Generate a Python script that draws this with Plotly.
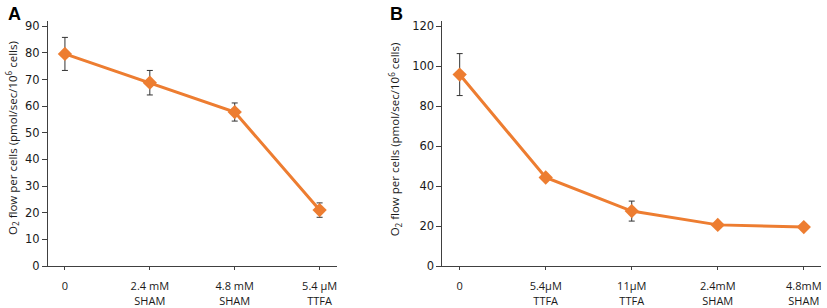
import plotly.graph_objects as go

# Panel A data
cats_a = ["0", "2.4 mM<br>SHAM", "4.8 mM<br>SHAM", "5.4 µM<br>TTFA"]
vals_a = [79.6, 68.8, 57.8, 21.0]
err_a = [6.2, 4.6, 3.4, 2.7]
yticks_a = [0, 10, 20, 30, 40, 50, 60, 70, 80, 90]

# Panel B data
cats_b = ["0", "5.4µM<br>TTFA", "11µM<br>TTFA", "2.4mM<br>SHAM", "4.8mM<br>SHAM"]
vals_b = [95.8, 44.3, 27.5, 20.6, 19.5]
err_b = [10.5, 1.0, 5.0, 1.0, 0.6]
yticks_b = [0, 20, 40, 60, 80, 100, 120]

ytitle = "O<sub>2</sub> flow per cells (pmol/sec/10<sup>6</sup> cells)"
ORANGE = "#ED7D31"
W, H = 827, 308

fig = go.Figure()

def add_series(x, y, e, xa, ya):
    fig.add_trace(go.Scatter(
        x=x, y=y, xaxis=xa, yaxis=ya, mode="lines+markers",
        line=dict(color=ORANGE, width=3),
        marker=dict(symbol="diamond", size=11, color=ORANGE),
        error_y=dict(type="data", array=e, visible=True, color="#333333", thickness=1, width=3),
        showlegend=False, cliponaxis=False,
    ))

add_series(cats_a, vals_a, err_a, "x", "y")
add_series(cats_b, vals_b, err_b, "x2", "y2")

tickfont_y = dict(family="DejaVu Sans", size=11.5, color="#1a1a1a")
tickfont_x = dict(family="Open Sans", size=11, color="#1a1a1a")
axcommon = dict(showline=True, linecolor="#404040", linewidth=1, ticks="outside",
                tickcolor="#404040", showgrid=False, zeroline=False)

fig.update_layout(
    width=W, height=H, margin=dict(l=0, r=0, t=0, b=0),
    plot_bgcolor="white", paper_bgcolor="white",
    xaxis=dict(domain=[48 / W, 337 / W], type="category", categoryorder="array",
               categoryarray=cats_a, range=[-0.2, 3.2], tickfont=tickfont_x, ticklen=3,
               ticklabelstandoff=7, **axcommon),
    yaxis=dict(domain=[(H - 272) / H, (H - 20) / H], range=[0, 91.8], tickvals=yticks_a,
               tickfont=tickfont_y, anchor="x", ticklen=5, **axcommon),
    xaxis2=dict(domain=[443 / W, 822 / W], type="category", categoryorder="array",
                categoryarray=cats_b, range=[-0.2, 4.2], tickfont=tickfont_x, ticklen=3,
                ticklabelstandoff=7, anchor="y2", **axcommon),
    yaxis2=dict(domain=[(H - 272) / H, (H - 20) / H], range=[0, 122.4], tickvals=yticks_b,
                tickfont=tickfont_y, anchor="x2", ticklen=5, **axcommon),
    annotations=[
        dict(text="<b>A</b>", x=15 / W, y=1 - 12 / H, xref="paper", yref="paper",
             showarrow=False, font=dict(family="Liberation Sans", size=18, color="black"),
             xanchor="center", yanchor="middle"),
        dict(text="<b>B</b>", x=397 / W, y=1 - 12 / H, xref="paper", yref="paper",
             showarrow=False, font=dict(family="Liberation Sans", size=18, color="black"),
             xanchor="center", yanchor="middle"),
        dict(text=ytitle, x=12 / W, y=1 - 140 / H, xref="paper", yref="paper",
             showarrow=False, textangle=-90, font=dict(family="Open Sans", size=11.5, color="#1a1a1a"),
             xanchor="center", yanchor="middle"),
        dict(text=ytitle, x=395 / W, y=1 - 142 / H, xref="paper", yref="paper",
             showarrow=False, textangle=-90, font=dict(family="Open Sans", size=11.5, color="#1a1a1a"),
             xanchor="center", yanchor="middle"),
    ],
)

fig.write_html("out.html", config={"displayModeBar": False},
               post_script="document.body.style.margin='0';")
